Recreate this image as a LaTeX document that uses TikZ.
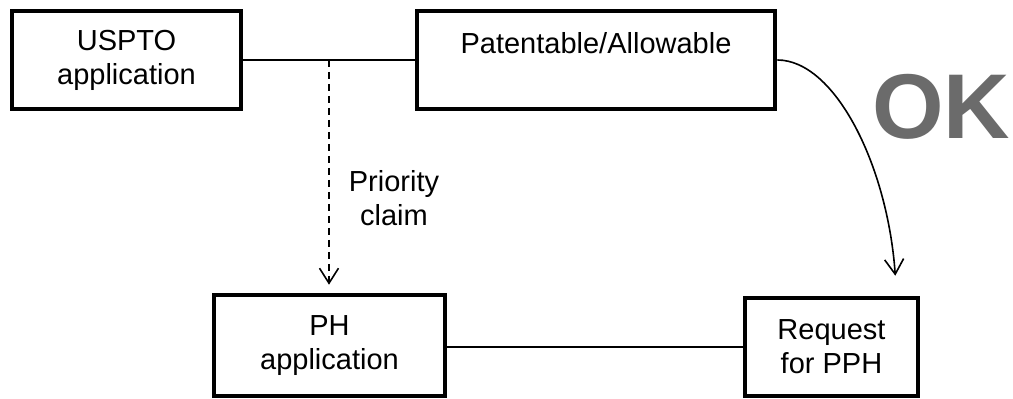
\documentclass[tikz,border=0pt]{standalone}
\usepackage{fontspec}
\setmainfont{Liberation Sans}
\usetikzlibrary{positioning,calc,arrows.meta}

\begin{document}
\begin{tikzpicture}[
      x=0.5pt, y=-0.5pt,
      stage/.style={
        draw,
        line width=2.3pt,
        align=center,
        inner sep=0pt,
        font=\fontsize{14.5}{17}\selectfont
      },
      link/.style={line width=0.8pt},
      flow/.style={link, -{Straight Barb[length=7.5pt,width=9.5pt]}}
    ]
    \useasboundingbox (0,0) rectangle (1013,399);
    %% Stages
    \node[stage, minimum width=114.5pt, minimum height=49pt] (uspto) at (126.5,60) {USPTO\\application};
    \node[stage, minimum width=179pt, minimum height=49pt] (patent) at (596,60) {Patentable/Allowable\\\mbox{}};
    \node[stage, minimum width=115.5pt, minimum height=50.5pt] (ph) at (329.5,345.5) {PH\\application};
    \node[stage, minimum width=86.5pt, minimum height=49pt] (req) at (831.5,347) {Request\\for PPH};
    %% Result
    \node[font=\fontsize{46}{46}\selectfont\bfseries, text=black!58] (ok) at (941,107) {OK};
    %% Links
    \draw[link] (uspto.east) -- (patent.west);
    \draw[link] (req.west -| ph.east) -- (req.west);
    %% Priority claim
    \coordinate (prio) at ($(uspto.east)!0.5!(patent.west)$);
    \draw[flow, dash pattern=on 3.5pt off 2.5pt] (prio) -- ([yshift=4pt]prio |- ph.north);
    \node[font=\fontsize{14.5}{17}\selectfont, align=center] (prio-label) at (394,198) {Priority\\claim};
    %% Patentable -> request
    \coordinate (req-in) at ([xshift=-12.5pt,yshift=10pt]req.north east);
    \draw[flow] (patent.east) to[out=0, in=94, out looseness=0.6, in looseness=1.15] (req-in);
  \end{tikzpicture}
\end{document}
